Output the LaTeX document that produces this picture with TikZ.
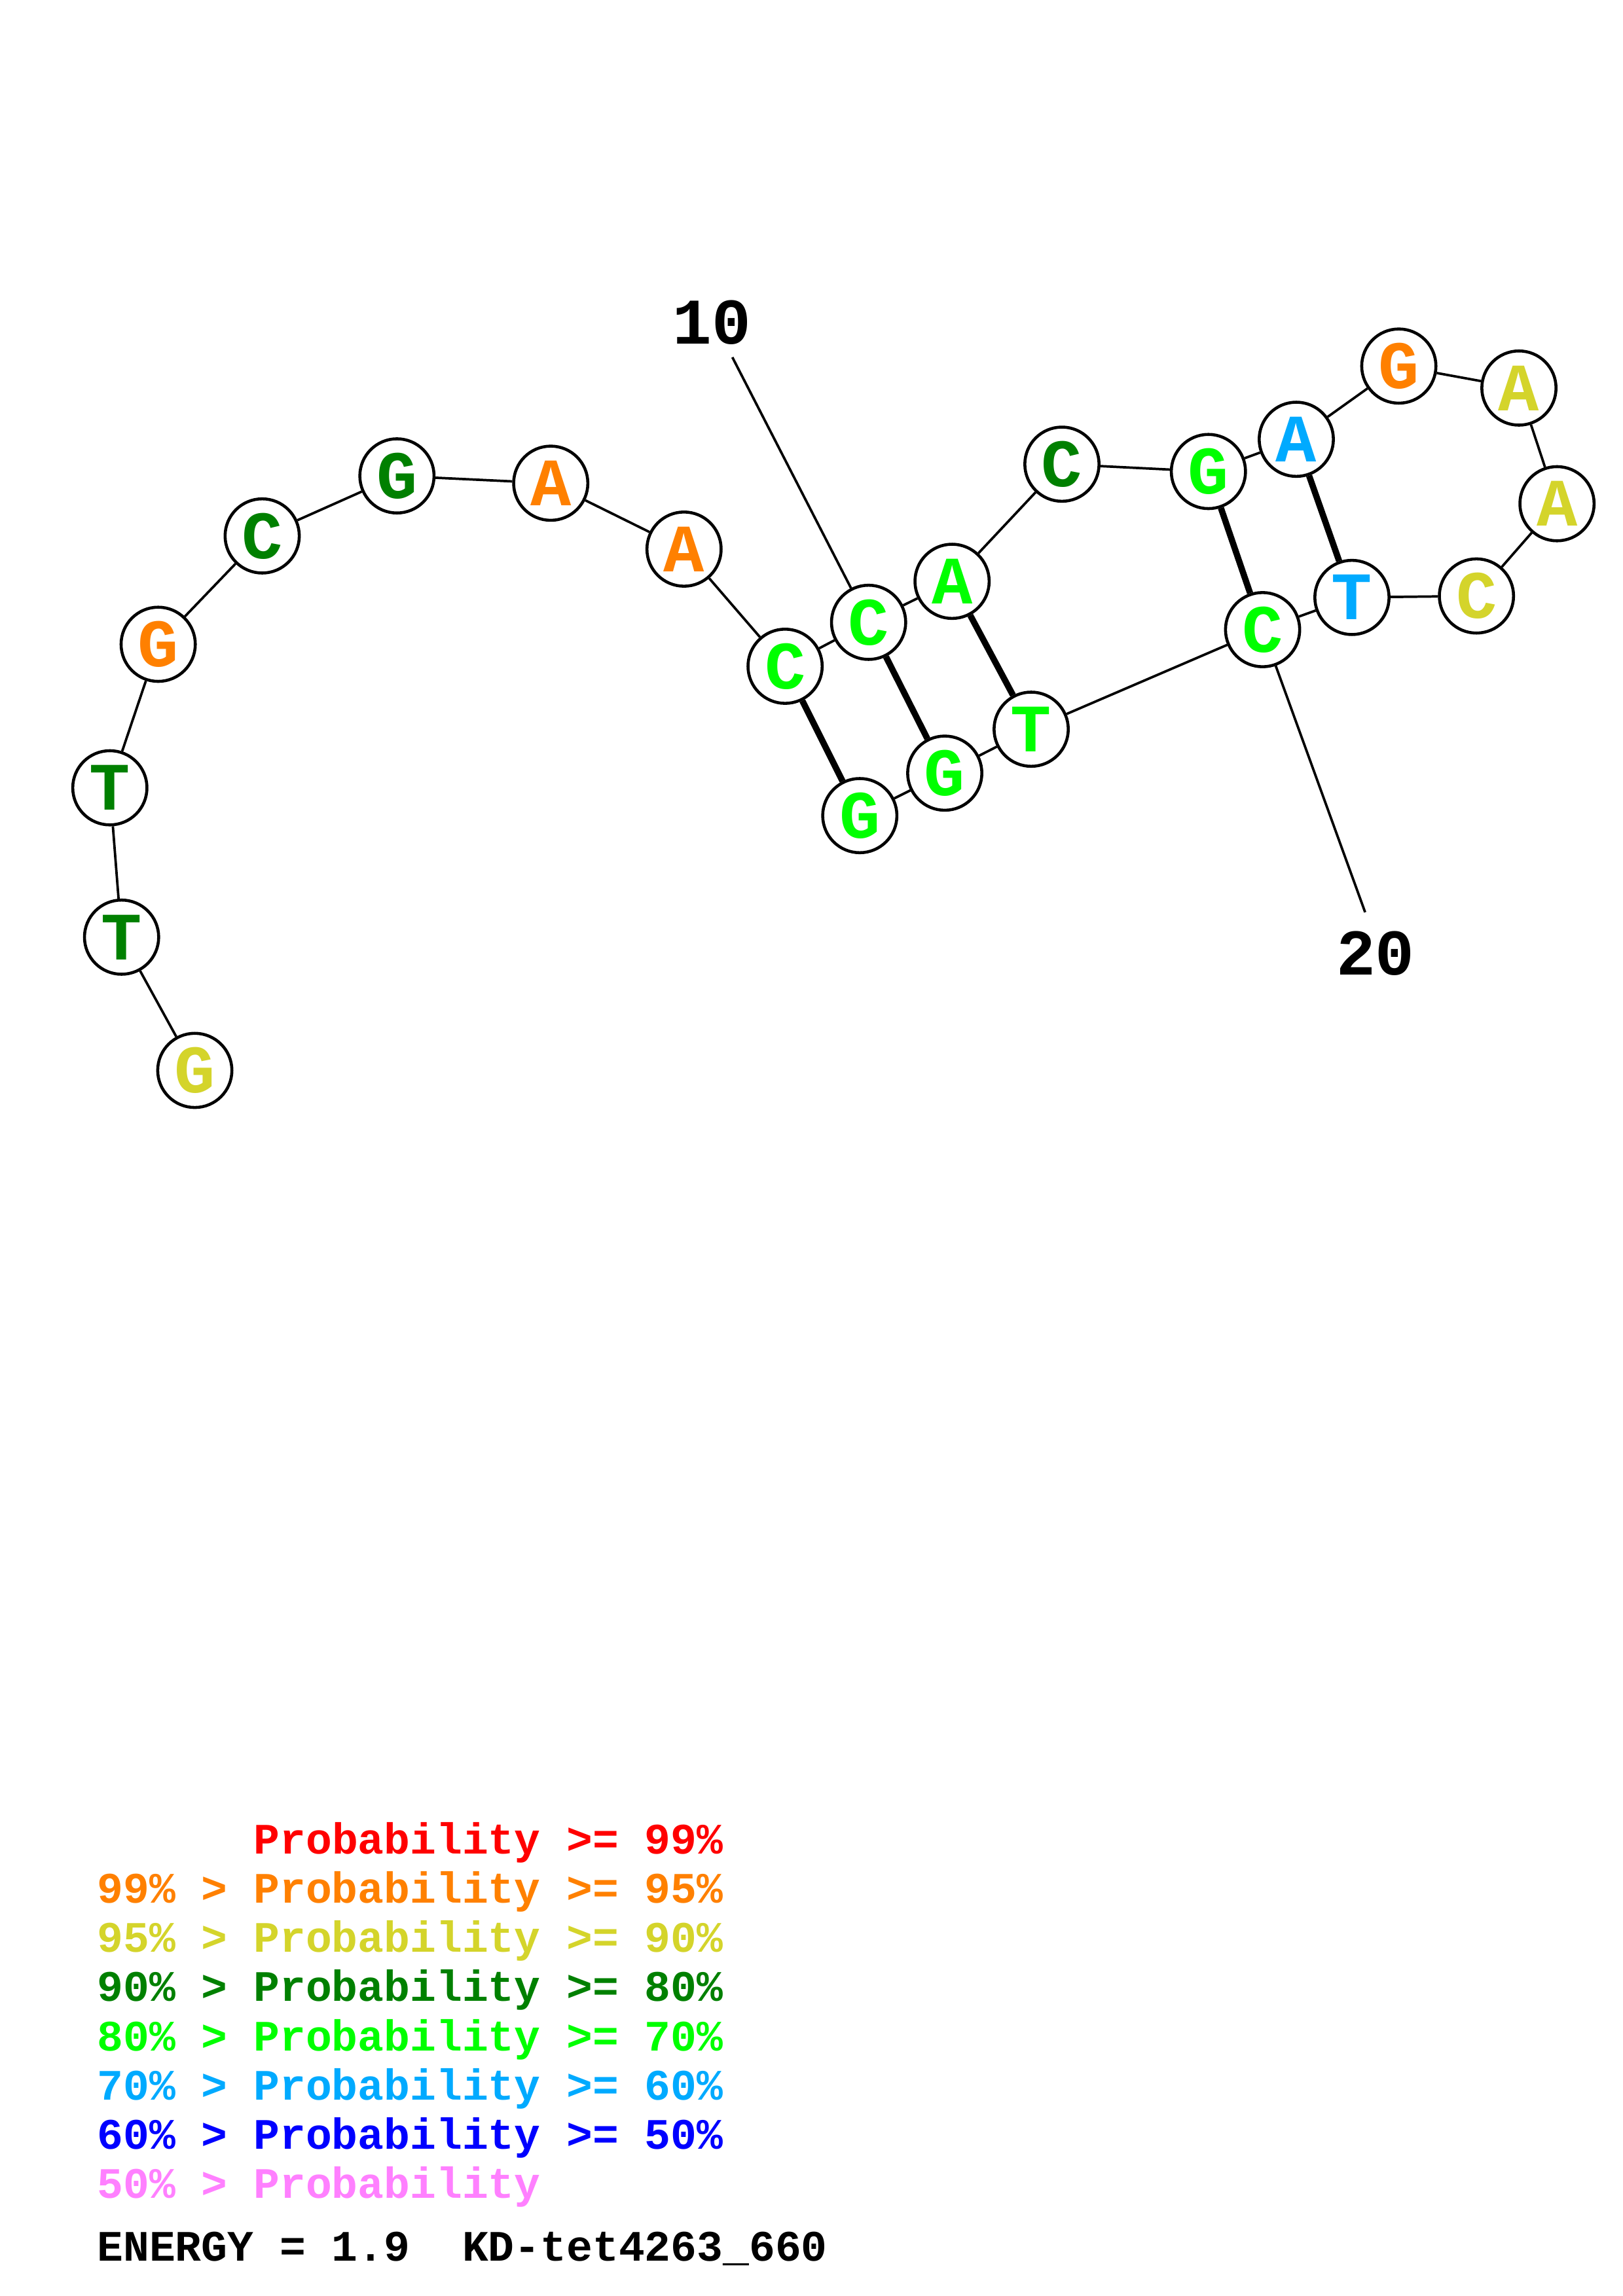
\documentclass[tikz,border=0pt]{standalone}
\usepackage{fontspec}
\setmonofont{Liberation Mono}
\usetikzlibrary{positioning}
\definecolor{p99}{HTML}{FF0000}
\definecolor{p95}{HTML}{FF8000}
\definecolor{p90}{HTML}{D4D42B}
\definecolor{p80}{HTML}{008000}
\definecolor{p70}{HTML}{00FF00}
\definecolor{p60}{HTML}{00AAFF}
\definecolor{p50}{HTML}{0000FF}
\definecolor{p00}{HTML}{FF80FF}
\tikzset{
  nt/.style={circle, draw=black, line width=1.1pt, fill=white, minimum size=0.96cm,
    inner sep=0pt, font=\fontsize{25}{25}\selectfont\ttfamily\bfseries},
  bbone/.style={line width=0.9pt},
  bpair/.style={line width=2.3pt},
  numlab/.style={inner sep=0pt, font=\fontsize{24}{24}\selectfont\ttfamily\bfseries},
  legline/.style={anchor=base west, inner sep=0pt,
    font=\fontsize{16}{16}\selectfont\ttfamily\bfseries}
}
\newcommand{\nuc}[5]{%
  \node[nt, text=#5] (n#1) at (#2,#3) {#4};%
}

\begin{document}
\begin{tikzpicture}[x=0.018953cm, y=-0.018953cm]
    \useasboundingbox (0,0) rectangle (1108,1568);

    % 5' tail
    \nuc{1}{133}{731}{G}{p90}
    \nuc{2}{83}{640}{T}{p80}
    \nuc{3}{75}{538}{T}{p80}
    \nuc{4}{108}{440}{G}{p95}
    \nuc{5}{179}{366}{C}{p80}
    \nuc{6}{271}{325}{G}{p80}
    \nuc{7}{376}{330}{A}{p95}
    \nuc{8}{467}{375}{A}{p95}

    % first stem and interior loop
    \nuc{9}{536}{455}{C}{p70}
    \nuc{10}{593}{425}{C}{p70}
    \nuc{11}{650}{397}{A}{p70}
    \nuc{12}{725}{317}{C}{p80}
    \nuc{13}{825}{322}{G}{p70}

    % hairpin
    \nuc{14}{885}{300}{A}{p60}
    \nuc{15}{955}{250}{G}{p95}
    \nuc{16}{1037}{265}{A}{p90}
    \nuc{17}{1063}{344}{A}{p90}
    \nuc{18}{1008}{407}{C}{p90}
    \nuc{19}{923}{408}{T}{p60}
    \nuc{20}{862}{430}{C}{p70}

    % 3' side
    \nuc{21}{704}{498}{T}{p70}
    \nuc{22}{645}{528}{G}{p70}
    \nuc{23}{587}{557}{G}{p70}

    % backbone
    \foreach \i [evaluate=\i as \j using int(\i+1)] in {1,...,22}
      \draw[bbone] (n\i) -- (n\j);

    % base pairs
    \foreach \a/\b in {9/23, 10/22, 11/21, 13/20, 14/19}
      \draw[bpair] (n\a) -- (n\b);

    % position ticks
    \coordinate (t10) at (500,244);
    \coordinate (t20) at (932,623);
    \draw[bbone] (n10) -- (t10);
    \draw[bbone] (n20) -- (t20);
    \node[numlab] (l10) at (486,220) {10};
    \node[numlab] (l20) at (939,651) {20};

    % legend
    \node[legline, text=p99] (g1) at (66,1266) {\phantom{99\% > }Probability >= 99\%};
    \node[legline, text=p95] (g2) at (66,1299.6) {99\% > Probability >= 95\%};
    \node[legline, text=p90] (g3) at (66,1333.2) {95\% > Probability >= 90\%};
    \node[legline, text=p80] (g4) at (66,1366.8) {90\% > Probability >= 80\%};
    \node[legline, text=p70] (g5) at (66,1400.4) {80\% > Probability >= 70\%};
    \node[legline, text=p60] (g6) at (66,1434) {70\% > Probability >= 60\%};
    \node[legline, text=p50] (g7) at (66,1467.6) {60\% > Probability >= 50\%};
    \node[legline, text=p00] (g8) at (66,1501.2) {50\% > Probability};
    \node[legline, text=black] (energy) at (66,1544) {ENERGY = 1.9\ \ KD-tet4263\_660};
  \end{tikzpicture}
\end{document}
